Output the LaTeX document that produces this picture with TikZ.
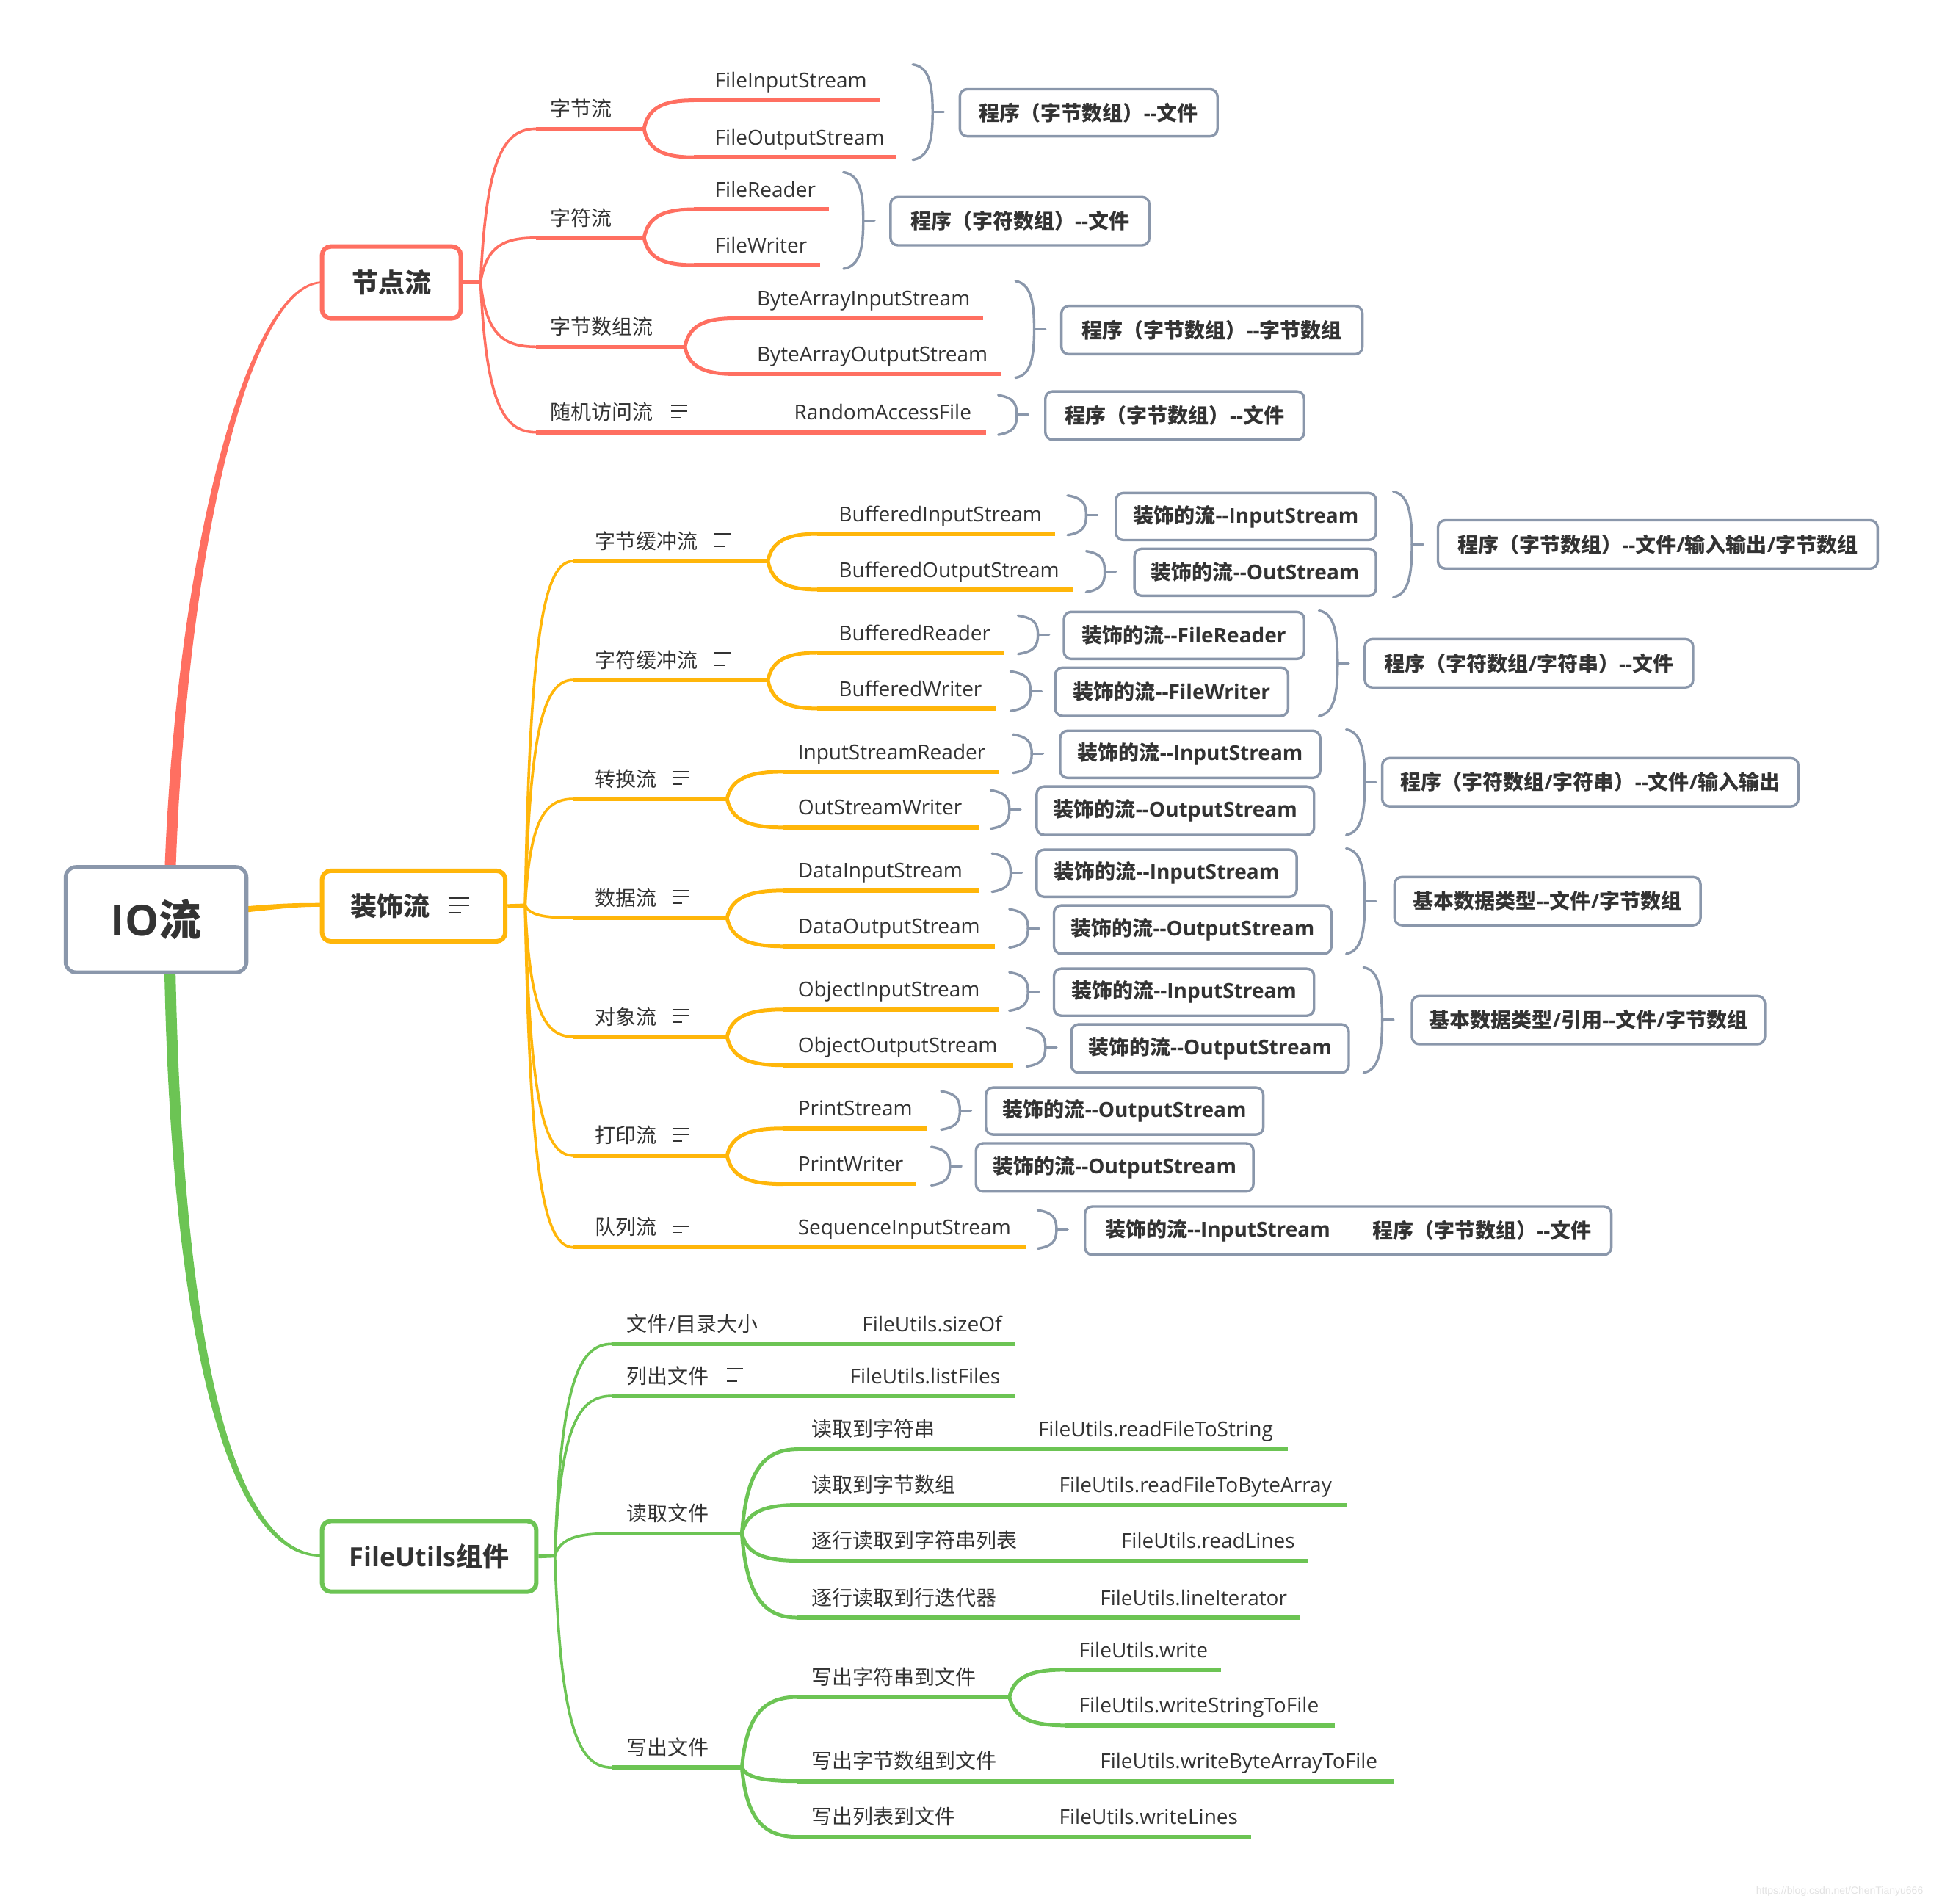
\documentclass[tikz,border=0pt]{standalone}
\usepackage{fontspec}
\setmainfont{Open Sans}
\newfontfamily\zhfont{Noto Sans CJK SC}
\newfontfamily\wmfont{Liberation Sans}
\newcommand\z[1]{{\zhfont #1}}
\newcommand\dd{-{}-}
\usetikzlibrary{calc}
\definecolor{cR}{HTML}{FF6F61}
\definecolor{cO}{HTML}{FFB60A}
\definecolor{cG}{HTML}{6CC454}
\definecolor{cGr}{HTML}{8A97AB}
\definecolor{cT}{HTML}{333333}
\definecolor{cW}{HTML}{E2E2E2}
\tikzset{
  lvl/.style={to path={let \p1=(\tikztostart),\p2=(\tikztotarget) in .. controls ({\x1+0.1*(\x2-\x1)},{\y1+0.8*(\y2-\y1)}) and ({\x1+0.4*(\x2-\x1)},\y2) .. (\tikztotarget)}},
  frk/.style={to path={let \p1=(\tikztostart),\p2=(\tikztotarget) in .. controls ({\x1+0.08*(\x2-\x1)},{\y1+0.7*(\y2-\y1)}) and ({\x1+0.35*(\x2-\x1)},\y2) .. (\tikztotarget)}},
  ul/.style={line width=2.8pt},
  crv/.style={line width=1.8pt, line cap=round},
  fcrv/.style={line width=2.5pt, line cap=round},
  stub/.style={line width=2.6pt},
  brkline/.style={draw=cGr, line width=1.7pt, line cap=round},
  leaf/.style={draw=cGr, line width=1.7pt, rounded corners=5pt, fill=white, inner sep=0pt, text=cT, font=\fontsize{14}{16}\selectfont\bfseries},
  lone/.style={line width=3pt, rounded corners=6pt, fill=white, inner sep=0pt, text=cT, font=\fontsize{18}{20}\selectfont\bfseries},
  rootbox/.style={draw=cGr, line width=2.6pt, rounded corners=7pt, fill=white, inner sep=0pt, text=cT, font=\fontsize{29}{32}\selectfont\bfseries},
  txt/.style={anchor=base west, inner sep=0pt, text=cT, font=\fontsize{14}{16}\selectfont},
  btxt/.style={anchor=west, inner sep=0pt, text=cT, font=\fontsize{14}{16}\selectfont\bfseries},
  nl/.style={line width=0.9pt, draw=cT},
}
% underlined item: name, colour, xstart, xend, y, textx, text
\newcommand\itm[7]{%
  \coordinate (#1s) at (#3,#5);
  \coordinate (#1e) at (#4,#5);
  \draw[ul,draw=#2] (#1s) -- (#1e);
  \node[txt] (#1t) at ({#6},{#5-10}) {#7};}
% bracket: name, x0, xm, ytop, ybottom
\newcommand\brkt[5]{%
  \coordinate (#1a) at (#2,#4);
  \coordinate (#1b) at (#2,#5);
  \coordinate (#1m) at ({#3},{(#4+#5)/2});
  \coordinate (#1k) at ({#3+9},{(#4+#5)/2});
  \draw[brkline] (#1a) .. controls ({#3-3},{#4+2}) and ({#3},{#4+0.2*(#5-#4)}) .. (#1m)
     .. controls ({#3},{#5-0.2*(#5-#4)}) and ({#3-3},{#5-2}) .. (#1b);
  \draw[brkline] (#1m) -- (#1k);}
% box: [style] name x1 y1 x2 y2 text
\newcommand\mmbox[7][leaf]{%
  \pgfmathsetmacro\mmw{(#5-#3)*0.8434}%
  \pgfmathsetmacro\mmh{(#6-#4)*0.8434}%
  \node[#1, minimum width=\mmw pt, minimum height=\mmh pt] (#2) at ({(#3+#5)/2},{(#4+#6)/2}) {#7};}
% note icon: x, ycentre
\newcommand\mmnote[2]{%
  \draw[nl] (#1,{#2-5}) -- ({#1+13},{#2-5}) (#1,#2) -- ({#1+13},#2) (#1,{#2+5}) -- ({#1+8},{#2+5});}
\begin{document}
\begin{tikzpicture}[x=0.8434pt,y=-0.8434pt]
\useasboundingbox (0,0) rectangle (1568,1537);
% ---------- main branches (tapered) ----------
\fill[cR] (132.5,715) .. controls (141,450) and (199,227.5) .. (260,227.2) -- (260,228.8) .. controls (201,230.5) and (149,450) .. (141.5,715) -- cycle;
\fill[cG] (132.5,770) .. controls (137.5,1082) and (184,1258.5) .. (260,1256.8) -- (260,1255.2) .. controls (186,1253.5) and (146.5,1078) .. (141.5,770) -- cycle;
\fill[cO] (190,732.5) .. controls (225,729.3) and (238,729) .. (260,729) -- (260,732) .. controls (238,732) and (225,733.8) .. (190,737.5) -- cycle;
% ---------- root and level 1 ----------
\mmbox[rootbox]{root}{53}{700}{199}{785}{IO\z{流}}
\mmbox[lone,draw=cR]{jd}{260}{199}{372}{257}{\z{节点流}}
\mmbox[lone,draw=cO]{zs}{260}{703}{408}{760}{}
\node[anchor=west, inner sep=0pt, text=cT, font=\fontsize{18}{20}\selectfont\bfseries] (zst) at (283,731.5) {\z{装饰流}};
\draw[line width=1.1pt, draw=cT] (362,725) -- (379,725) (362,731) -- (379,731) (362,737) -- (372,737);
\mmbox[lone,draw=cG]{fu}{260}{1228}{433}{1285}{FileUtils\z{组件}}
\coordinate (bpN) at (388,228);
\coordinate (bpD) at (424,731);
\coordinate (bpF) at (448,1256);
\draw[stub,cR] (jd.east) -- (bpN);
\draw[stub,cO] (zs.east) -- (bpD);
\draw[stub,cG] (fu.east) -- (bpF);
% ================= RED: 节点流 =================
\itm{n1}{cR}{433}{520}{104}{444}{\z{字节流}}
\itm{fis}{cR}{560}{711}{81}{577}{FileInputStream}
\itm{fos}{cR}{560}{724}{127}{577}{FileOutputStream}
\brkt{b1}{737}{753}{52}{129}
\mmbox{p1}{775}{72}{983}{110}{\z{程序（字节数组）}\dd\z{文件}}
\itm{n2}{cR}{433}{520}{192}{444}{\z{字符流}}
\itm{frd}{cR}{560}{669}{169}{577}{FileReader}
\itm{fwr}{cR}{560}{662}{214}{577}{FileWriter}
\brkt{b2}{681}{697}{139}{217}
\mmbox{p2}{719}{159}{928}{198}{\z{程序（字符数组）}\dd\z{文件}}
\itm{n3}{cR}{433}{553}{280}{444}{\z{字节数组流}}
\itm{bai}{cR}{593}{794}{257}{611}{ByteArrayInputStream}
\itm{bao}{cR}{593}{808}{302}{611}{ByteArrayOutputStream}
\brkt{b3}{820}{835}{227}{305}
\mmbox{p3}{857}{247}{1100}{286}{\z{程序（字节数组）}\dd\z{字节数组}}
\itm{n4}{cR}{433}{796}{349}{444}{\z{随机访问流}}
\mmnote{542}{332}
\node[txt] (raf) at (641,339) {RandomAccessFile};
\brkt{b4}{806}{821}{319}{351}
\mmbox{p4}{844}{316}{1053}{355}{\z{程序（字节数组）}\dd\z{文件}}
\draw[crv,cR] (bpN) to[lvl] (n1s);
\draw[crv,cR] (bpN) to[lvl] (n2s);
\draw[crv,cR] (bpN) to[lvl] (n3s);
\draw[crv,cR] (bpN) to[lvl] (n4s);
\draw[fcrv,cR] (n1e) to[frk] (fiss);
\draw[fcrv,cR] (n1e) to[frk] (foss);
\draw[fcrv,cR] (n2e) to[frk] (frds);
\draw[fcrv,cR] (n2e) to[frk] (fwrs);
\draw[fcrv,cR] (n3e) to[frk] (bais);
\draw[fcrv,cR] (n3e) to[frk] (baos);
% ================= ORANGE: 装饰流 =================
\itm{o1}{cO}{463}{620}{453}{480}{\z{字节缓冲流}}
\mmnote{577}{436}
\itm{bis}{cO}{660}{852}{431}{677}{BufferedInputStream}
\itm{bos}{cO}{660}{866}{476}{677}{BufferedOutputStream}
\brkt{s1}{862}{877}{400}{432}
\mmbox{d1}{901}{398}{1111}{436}{\z{装饰的流}\dd InputStream}
\brkt{s2}{877}{892}{445}{478}
\mmbox{d2}{916}{443}{1111}{481}{\z{装饰的流}\dd OutStream}
\brkt{B1}{1125}{1140}{397}{482}
\mmbox{P1}{1161}{420}{1516}{459}{\z{程序（字节数组）}\dd\z{文件}/\z{输入输出}/\z{字节数组}}
\itm{o2}{cO}{463}{620}{549}{480}{\z{字符缓冲流}}
\mmnote{577}{532}
\itm{brd}{cO}{660}{811}{527}{677}{BufferedReader}
\itm{bwr}{cO}{660}{804}{572}{677}{BufferedWriter}
\brkt{s3}{822}{838}{497}{528}
\mmbox{d3}{859}{494}{1053}{532}{\z{装饰的流}\dd FileReader}
\brkt{s4}{816}{832}{542}{574}
\mmbox{d4}{852}{539}{1040}{578}{\z{装饰的流}\dd FileWriter}
\brkt{B2}{1065}{1080}{493}{578}
\mmbox{P2}{1102}{516}{1367}{555}{\z{程序（字符数组}/\z{字符串）}\dd\z{文件}}
\itm{o3}{cO}{463}{587}{645}{480}{\z{转换流}}
\mmnote{543}{628}
\itm{isr}{cO}{632}{807}{623}{644}{InputStreamReader}
\itm{osw}{cO}{632}{790}{668}{644}{OutStreamWriter}
\brkt{s5}{818}{833}{593}{624}
\mmbox{d5}{856}{590}{1066}{628}{\z{装饰的流}\dd InputStream}
\brkt{s6}{800}{815}{638}{669}
\mmbox{d6}{837}{635}{1061}{674}{\z{装饰的流}\dd OutputStream}
\brkt{B3}{1087}{1102}{589}{674}
\mmbox{P3}{1116}{612}{1452}{651}{\z{程序（字符数组}/\z{字符串）}\dd\z{文件}/\z{输入输出}}
\itm{o4}{cO}{463}{587}{741}{480}{\z{数据流}}
\mmnote{543}{724}
\itm{dis}{cO}{632}{790}{719}{644}{DataInputStream}
\itm{dos}{cO}{632}{803}{764}{644}{DataOutputStream}
\brkt{s7}{801}{816}{689}{720}
\mmbox{d7}{837}{686}{1047}{724}{\z{装饰的流}\dd InputStream}
\brkt{s8}{815}{830}{734}{765}
\mmbox{d8}{851}{731}{1075}{770}{\z{装饰的流}\dd OutputStream}
\brkt{B4}{1087}{1102}{685}{770}
\mmbox{P4}{1126}{708}{1373}{747}{\z{基本数据类型}\dd\z{文件}/\z{字节数组}}
\itm{o5}{cO}{463}{587}{837}{480}{\z{对象流}}
\mmnote{543}{820}
\itm{ois}{cO}{632}{806}{815}{644}{ObjectInputStream}
\itm{oos}{cO}{632}{818}{860}{644}{ObjectOutputStream}
\brkt{s9}{815}{830}{785}{816}
\mmbox{d9}{851}{782}{1061}{820}{\z{装饰的流}\dd InputStream}
\brkt{s10}{829}{844}{830}{861}
\mmbox{d10}{865}{827}{1089}{866}{\z{装饰的流}\dd OutputStream}
\brkt{B5}{1101}{1116}{781}{866}
\mmbox{P5}{1140}{804}{1425}{843}{\z{基本数据类型}/\z{引用}\dd\z{文件}/\z{字节数组}}
\itm{o6}{cO}{463}{587}{933}{480}{\z{打印流}}
\mmnote{543}{916}
\itm{ps}{cO}{632}{748}{911}{644}{PrintStream}
\itm{pw}{cO}{632}{740}{956}{644}{PrintWriter}
\brkt{s11}{760}{775}{881}{912}
\mmbox{d11}{796}{878}{1020}{916}{\z{装饰的流}\dd OutputStream}
\brkt{s12}{752}{767}{926}{957}
\mmbox{d12}{788}{923}{1012}{962}{\z{装饰的流}\dd OutputStream}
\itm{o7}{cO}{463}{828}{1007}{480}{\z{队列流}}
\mmnote{543}{990}
\node[txt] (sis) at (644,997) {SequenceInputStream};
\brkt{s13}{838}{853}{977}{1008}
\mmbox{d13}{876}{974}{1301}{1013}{}
\node[btxt] (d13a) at (892,993.5) {\z{装饰的流}\dd InputStream};
\node[btxt] (d13b) at (1108,993.5) {\z{程序（字节数组）}\dd\z{文件}};
\draw[crv,cO] (bpD) to[lvl] (o1s);
\draw[crv,cO] (bpD) to[lvl] (o2s);
\draw[crv,cO] (bpD) to[lvl] (o3s);
\draw[crv,cO] (bpD) to[lvl] (o4s);
\draw[crv,cO] (bpD) to[lvl] (o5s);
\draw[crv,cO] (bpD) to[lvl] (o6s);
\draw[crv,cO] (bpD) to[lvl] (o7s);
\draw[fcrv,cO] (o1e) to[frk] (biss);
\draw[fcrv,cO] (o1e) to[frk] (boss);
\draw[fcrv,cO] (o2e) to[frk] (brds);
\draw[fcrv,cO] (o2e) to[frk] (bwrs);
\draw[fcrv,cO] (o3e) to[frk] (isrs);
\draw[fcrv,cO] (o3e) to[frk] (osws);
\draw[fcrv,cO] (o4e) to[frk] (diss);
\draw[fcrv,cO] (o4e) to[frk] (doss);
\draw[fcrv,cO] (o5e) to[frk] (oiss);
\draw[fcrv,cO] (o5e) to[frk] (ooss);
\draw[fcrv,cO] (o6e) to[frk] (pss);
\draw[fcrv,cO] (o6e) to[frk] (pws);
% ================= GREEN: FileUtils组件 =================
\itm{g1}{cG}{494}{820}{1085}{506}{\z{文件}/\z{目录大小}}
\node[txt] (g1b) at (696,1075) {FileUtils.sizeOf};
\itm{g2}{cG}{494}{820}{1127}{506}{\z{列出文件}}
\mmnote{587}{1110}
\node[txt] (g2b) at (686,1117) {FileUtils.listFiles};
\itm{g3}{cG}{494}{599}{1238}{506}{\z{读取文件}}
\itm{r1}{cG}{644}{1040}{1170}{655}{\z{读取到字符串}}
\node[txt] (r1b) at (838,1160) {FileUtils.readFileToString};
\itm{r2}{cG}{644}{1088}{1215}{655}{\z{读取到字节数组}}
\node[txt] (r2b) at (855,1205) {FileUtils.readFileToByteArray};
\itm{r3}{cG}{644}{1056}{1260}{655}{\z{逐行读取到字符串列表}}
\node[txt] (r3b) at (905,1250) {FileUtils.readLines};
\itm{r4}{cG}{644}{1050}{1306}{655}{\z{逐行读取到行迭代器}}
\node[txt] (r4b) at (888,1296) {FileUtils.lineIterator};
\itm{g4}{cG}{494}{599}{1427}{506}{\z{写出文件}}
\itm{w1}{cG}{644}{815}{1370}{655}{\z{写出字符串到文件}}
\itm{wa}{cG}{860}{986}{1348}{871}{FileUtils.write}
\itm{wb}{cG}{860}{1078}{1393}{871}{FileUtils.writeStringToFile}
\itm{w2}{cG}{644}{1125}{1438}{655}{\z{写出字节数组到文件}}
\node[txt] (w2b) at (888,1428) {FileUtils.writeByteArrayToFile};
\itm{w3}{cG}{644}{1010}{1483}{655}{\z{写出列表到文件}}
\node[txt] (w3b) at (855,1473) {FileUtils.writeLines};
\draw[crv,cG] (bpF) to[lvl] (g1s);
\draw[crv,cG] (bpF) to[lvl] (g2s);
\draw[crv,cG] (bpF) to[lvl] (g3s);
\draw[crv,cG] (bpF) to[lvl] (g4s);
\draw[fcrv,cG] (g3e) to[frk] (r1s);
\draw[fcrv,cG] (g3e) to[frk] (r2s);
\draw[fcrv,cG] (g3e) to[frk] (r3s);
\draw[fcrv,cG] (g3e) to[frk] (r4s);
\draw[fcrv,cG] (g4e) to[frk] (w1s);
\draw[fcrv,cG] (g4e) to[frk] (w2s);
\draw[fcrv,cG] (g4e) to[frk] (w3s);
\draw[fcrv,cG] (w1e) to[frk] (was);
\draw[fcrv,cG] (w1e) to[frk] (wbs);
% watermark
\node[anchor=east, inner sep=0pt, text=cW, font=\wmfont\fontsize{7}{8}\selectfont] (wm) at (1553,1527) {https://blog.csdn.net/ChenTianyu666};
\end{tikzpicture}
\end{document}
